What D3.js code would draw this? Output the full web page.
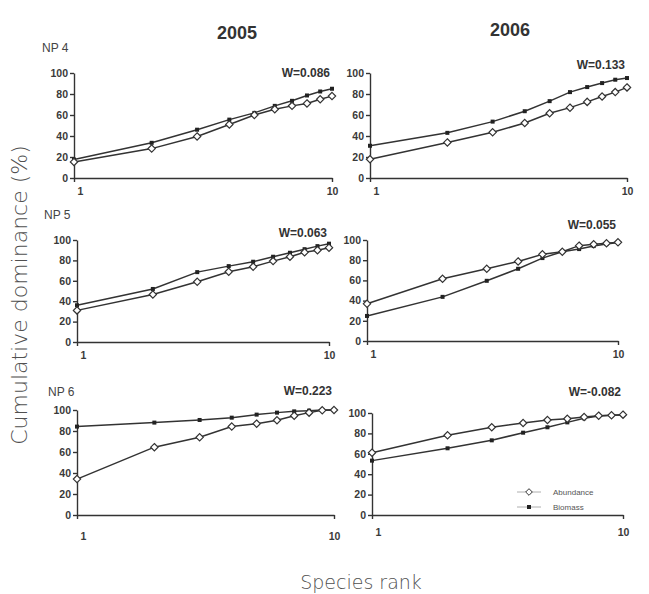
<!DOCTYPE html>
<html>
<head>
<meta charset="utf-8">
<script src="https://cdn.jsdelivr.net/npm/d3@7"></script>
<style>
  body { margin: 0; background: #fff; }
  .tick text { font-family: Arial, "Liberation Sans", sans-serif; font-size: 10.5px; font-weight: bold; fill: #3a3a3a; }
  .domain, .tick line { stroke: #333; stroke-width: 1.4; }
</style>
</head>
<body>
<div id="chart"></div>
<script>
// species rank 1..10
var ranks = [1, 2, 3, 4, 5, 6, 7, 8, 9, 10];
var yTicks = [0, 20, 40, 60, 80, 100];
var years = ["2005", "2006"];
var sites = ["NP 4", "NP 5", "NP 6"];
var wValues = ["W=0.086", "W=0.133", "W=0.063", "W=0.055", "W=0.223", "W=-0.082"];

// cumulative % abundance / biomass, panels in order NP4-2005, NP4-2006, NP5-2005, ...
var abund4_05 = [15.3, 28, 39.6, 51, 60, 65.5, 68.7, 71, 75, 78];
var biom4_05  = [17.6, 33.5, 46, 55.6, 62, 68.7, 73.5, 78.6, 82.4, 85];
var abund4_06 = [17.9, 33.9, 43.5, 52.4, 61.7, 67, 72.5, 77.6, 81.8, 86.3];
var biom4_06  = [30.7, 43, 53.7, 63.6, 73.2, 81.8, 86.6, 90.4, 93.6, 95.2];
var abund5_05 = [31, 46.6, 59, 68.9, 73.8, 79.3, 83.6, 87.9, 90, 92.5];
var biom5_05  = [36, 52, 68.5, 74.4, 78.7, 83.6, 87.5, 91, 94, 96.4];
var abund5_06 = [36.8, 61.6, 71.5, 78.8, 85.8, 88.4, 94.4, 95.7, 96.7, 97.7];
var biom5_06  = [24.8, 43.7, 59.6, 71.5, 82.1, 88.4, 91, 94, 96, 97.4];
var abund6_05 = [34.2, 64.6, 74, 84.2, 87, 90.2, 94.6, 97.5, 99.7, 100];
var biom6_05  = [84.2, 88, 90.5, 92.7, 95.6, 97.5, 98.7, 99.4, 100, 100];
var abund6_06 = [61.1, 78.1, 86, 90.2, 93.1, 94.4, 96, 97.4, 97.7, 98.4];
var biom6_06  = [53.3, 65.4, 73.2, 80.7, 86, 90.8, 94.8, 97, 97.7, 98];

var seriesA = [abund4_05, abund4_06, abund5_05, abund5_06, abund6_05, abund6_06];
var seriesB = [biom4_05, biom4_06, biom5_05, biom5_06, biom6_05, biom6_06];

// panel frames: left, right, top, bottom (pixels)
var frames = [
  [74, 332, 73, 178], [370, 627, 73, 178],
  [77, 329, 240, 342], [367, 618, 240, 341],
  [77, 334, 410, 515], [372, 623, 413, 515]
];
var xLabelGap = [6, 6, 6, 6, 14, 10];
var wY = [77, 69, 237, 229, 395, 396];

var W = 649, H = 594;
var svg = d3.select("#chart").append("svg")
    .attr("width", W).attr("height", H);

var ink = "#333";
var diamond = d3.symbol().type(d3.symbolDiamond2).size(34);

frames.forEach(function(f, i) {
  var x = d3.scaleLog().domain([1, 10]).range([f[0], f[1]]);
  var y = d3.scaleLinear().domain([0, 100]).range([f[3], f[2]]);

  var g = svg.append("g");

  g.append("g")
      .attr("transform", "translate(" + f[0] + ",0)")
      .call(d3.axisLeft(y).tickValues(yTicks).tickSize(4).tickPadding(2).tickSizeOuter(0));

  var xa = g.append("g")
      .attr("transform", "translate(0," + f[3] + ")")
      .call(d3.axisBottom(x).tickValues([1, 10]).tickFormat(d3.format("d"))
        .tickSize(4).tickPadding(xLabelGap[i]).tickSizeOuter(0));
  xa.selectAll(".tick text").attr("dx", function(d) { return d === 1 ? 6 : 0; });

  var line = d3.line()
      .x(function(d, k) { return x(ranks[k]); })
      .y(function(d) { return y(d); });

  g.append("path").datum(seriesB[i])
      .attr("d", line).attr("fill", "none")
      .attr("stroke", ink).attr("stroke-width", 1.5);
  g.append("path").datum(seriesA[i])
      .attr("d", line).attr("fill", "none")
      .attr("stroke", ink).attr("stroke-width", 1.5);

  g.selectAll(".sq").data(seriesB[i]).enter().append("rect")
      .attr("x", function(d, k) { return x(ranks[k]) - 2; })
      .attr("y", function(d) { return y(d) - 2; })
      .attr("width", 4).attr("height", 4)
      .attr("fill", "#222");

  g.selectAll(".dm").data(seriesA[i]).enter().append("path")
      .attr("d", diamond)
      .attr("transform", function(d, k) { return "translate(" + x(ranks[k]) + "," + y(d) + ")"; })
      .attr("fill", "#fff").attr("stroke", ink).attr("stroke-width", 1.2);

  g.append("text")
      .attr("x", f[1] - 2).attr("y", wY[i])
      .attr("text-anchor", "end")
      .style("font-family", "Arial, 'Liberation Sans', sans-serif")
      .style("font-weight", "bold").style("font-size", "12px")
      .attr("fill", ink)
      .text(wValues[i]);
});

// site labels
var siteY = [52, 219, 396];
var siteX = [42, 44, 48];
sites.forEach(function(s, i) {
  svg.append("text")
      .attr("x", siteX[i]).attr("y", siteY[i])
      .style("font-family", "'Liberation Sans Narrow', 'Liberation Sans', Arial, sans-serif")
      .style("font-size", "12px").attr("fill", "#444")
      .text(s);
});

// year titles
var yearX = [237, 510], yearY = [39, 36];
years.forEach(function(s, i) {
  svg.append("text")
      .attr("x", yearX[i]).attr("y", yearY[i])
      .attr("text-anchor", "middle")
      .style("font-family", "Arial, 'Liberation Sans', sans-serif")
      .style("font-weight", "bold").style("font-size", "18px")
      .attr("fill", ink)
      .text(s);
});

// axis titles
svg.append("text")
    .attr("transform", "translate(27,295) rotate(-90)")
    .attr("text-anchor", "middle")
    .style("font-family", "'DejaVu Sans', sans-serif")
    .style("font-weight", "300").style("font-size", "22px")
    .attr("fill", "#505050")
    .text("Cumulative dominance (%)");

svg.append("text")
    .attr("x", 361).attr("y", 589)
    .attr("text-anchor", "middle")
    .style("font-family", "'DejaVu Sans', sans-serif")
    .style("font-weight", "300").style("font-size", "19px")
    .attr("fill", "#505050")
    .text("Species rank");

// legend (inside NP 6 / 2006 panel)
var legendNames = ["Abundance", "Biomass"];
var legY = [492, 507];
legendNames.forEach(function(n, i) {
  var lg = svg.append("g");
  lg.append("line").attr("x1", 517).attr("x2", 541)
      .attr("y1", legY[i]).attr("y2", legY[i])
      .attr("stroke", "#999").attr("stroke-width", 0.8);
  if (i === 0) {
    lg.append("path")
        .attr("d", d3.symbol().type(d3.symbolDiamond2).size(28))
        .attr("transform", "translate(529," + legY[i] + ")")
        .attr("fill", "#fff").attr("stroke", ink).attr("stroke-width", 1);
  } else {
    lg.append("rect").attr("x", 527).attr("y", legY[i] - 2)
        .attr("width", 4).attr("height", 4).attr("fill", "#222");
  }
  lg.append("text").attr("x", 553).attr("y", legY[i] + 3)
      .style("font-family", "'Liberation Sans Narrow', Arial, sans-serif")
      .style("font-size", "8px").attr("fill", "#555")
      .text(n);
});
</script>
</body>
</html>
